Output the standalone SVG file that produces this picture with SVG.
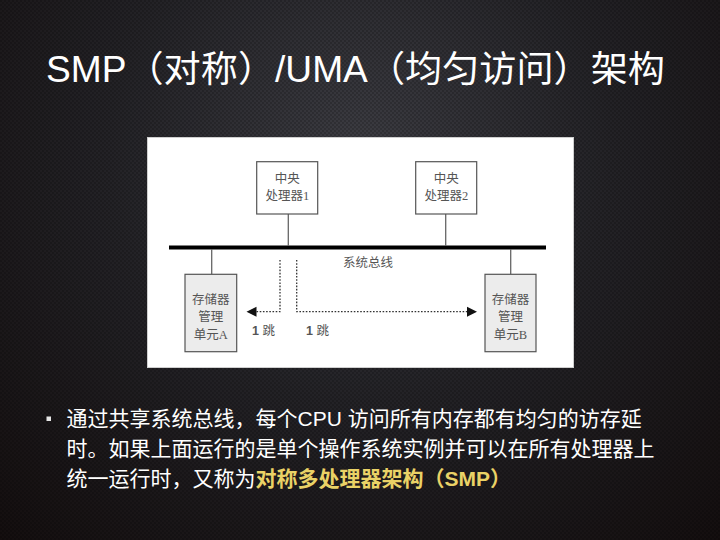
<svg xmlns="http://www.w3.org/2000/svg" width="720" height="540" viewBox="0 0 720 540">
<defs>
<radialGradient id="bg" cx="360" cy="150" r="560" gradientUnits="userSpaceOnUse">
<stop offset="0" stop-color="#3c3c42"/>
<stop offset="0.45" stop-color="#232226"/>
<stop offset="1" stop-color="#120c0c"/>
</radialGradient>
<pattern id="tex" width="4" height="4" patternUnits="userSpaceOnUse">
<rect x="0" y="0" width="2" height="2" fill="#000" opacity="0.18"/>
<rect x="2" y="2" width="2" height="2" fill="#000" opacity="0.18"/>
</pattern>
<style>
.box{fill:#fff;stroke:#555;stroke-width:1.2}
.mem{fill:#ececec;stroke:#555;stroke-width:1.2}
.lbl{font-family:"Liberation Serif","Noto Sans CJK SC",serif;font-size:12.5px;fill:#555;text-anchor:middle}
.stem{stroke:#666;stroke-width:1.3}
.dot{stroke:#333;stroke-width:1.3;stroke-dasharray:1.6,1.6;fill:none}
.head{fill:#111}
.body{font-family:"Liberation Sans","Noto Sans CJK SC",sans-serif;font-size:21px;fill:#fff}
</style>
</defs>
<rect width="720" height="540" fill="url(#bg)"/>
<rect width="720" height="540" fill="url(#tex)"/>

<text x="46" y="82" font-family="Liberation Sans,'Noto Sans CJK SC',sans-serif" font-size="36" fill="#fff" textLength="619" lengthAdjust="spacingAndGlyphs">SMP（对称）/UMA（均匀访问）架构</text>

<g id="figure">
<rect x="147.5" y="137.5" width="426" height="230" fill="#fff" stroke="#cfcfcf" stroke-width="1"/>
</g>

<g id="connectors">
<line x1="169" y1="247.5" x2="546" y2="247.5" stroke="#000" stroke-width="4"/>
<line class="stem" x1="288.3" y1="214" x2="288.3" y2="246"/>
<line class="stem" x1="445.7" y1="214" x2="445.7" y2="246"/>
<line class="stem" x1="211.7" y1="249" x2="211.7" y2="274.3"/>
<line class="stem" x1="510.7" y1="249" x2="510.7" y2="274.3"/>
<path class="dot" d="M280,260 V311.7 H256"/>
<polygon class="head" points="246.5,311.7 256.5,306.7 256.5,316.7"/>
<path class="dot" d="M296.7,260 V311.7 H467"/>
<polygon class="head" points="477,311.7 467,306.7 467,316.7"/>
</g>

<g id="bus-label">
<text class="lbl" x="368" y="267" font-size="12">系统总线</text>
</g>

<g id="cpu1">
<rect class="box" x="256.7" y="161.7" width="61" height="52.3"/>
<text class="lbl" x="287.3" y="182.5">中央</text>
<text class="lbl" x="287.3" y="200">处理器1</text>
</g>
<g id="cpu2">
<rect class="box" x="415.7" y="161.7" width="61" height="52.3"/>
<text class="lbl" x="446.3" y="182.5">中央</text>
<text class="lbl" x="446.3" y="200">处理器2</text>
</g>
<g id="memA">
<rect class="mem" x="185" y="274.3" width="51.7" height="77.4"/>
<text class="lbl" x="210.8" y="303.5">存储器</text>
<text class="lbl" x="210.8" y="321">管理</text>
<text class="lbl" x="210.8" y="338.5">单元A</text>
</g>
<g id="memB">
<rect class="mem" x="485" y="274.3" width="51" height="77.4"/>
<text class="lbl" x="510.5" y="303.5">存储器</text>
<text class="lbl" x="510.5" y="321">管理</text>
<text class="lbl" x="510.5" y="338.5">单元B</text>
</g>
<g id="hop-labels">
<text x="252" y="334.5" font-family="Liberation Sans,'Noto Sans CJK SC',sans-serif" font-size="12.5" fill="#555"><tspan font-weight="bold">1</tspan> 跳</text>
<text x="306" y="334.5" font-family="Liberation Sans,'Noto Sans CJK SC',sans-serif" font-size="12.5" fill="#555"><tspan font-weight="bold">1</tspan> 跳</text>
</g>

<g id="bullet">
<rect x="46.5" y="416.5" width="4.5" height="4.5" fill="#e6e6e6"/>
<text class="body" x="66.5" y="426">通过共享系统总线，每个CPU 访问所有内存都有均匀的访存延</text>
<text class="body" x="66.5" y="456">时。如果上面运行的是单个操作系统实例并可以在所有处理器上</text>
<text class="body" x="66.5" y="486">统一运行时，又称为<tspan fill="#ead266" font-weight="bold">对称多处理器架构（SMP）</tspan></text>
</g>
</svg>
